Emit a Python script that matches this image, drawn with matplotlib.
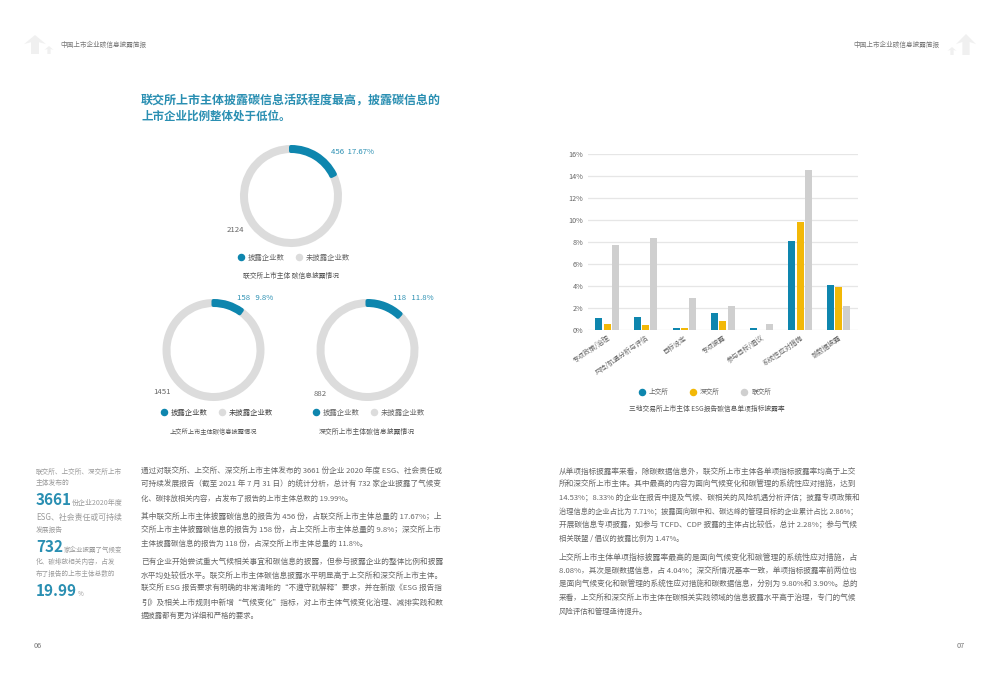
import matplotlib
matplotlib.use("Agg")
import matplotlib.pyplot as plt
import numpy as np
from matplotlib.lines import Line2D
from matplotlib.patches import Polygon

plt.rcParams['font.family'] = ['Noto Sans CJK SC', 'DejaVu Sans']
plt.rcParams['axes.unicode_minus'] = False

W, H = 1000, 679
BLUE = '#0E86AE'
TEAL = '#2A8FB2'
YELLOW = '#F2B807'
BAR_GREY = '#CFCFCF'
RING = '#DCDCDC'
TXT = '#666666'
SIDE = '#9A9A9A'

# ---- data
exchanges = ['上交所', '深交所', '联交所']
categories = ['专项政策/治理', '风险/机遇分析与评估', '目标设定', '专项披露',
              '参与目标/倡议', '系统性应对措施', '碳数据披露']
sse = [1.10, 1.20, 0.12, 1.55, 0.12, 8.08, 4.04]
szse = [0.50, 0.40, 0.12, 0.80, 0.00, 9.80, 3.90]
bse = [7.71, 8.33, 2.86, 2.20, 0.50, 14.53, 2.20]
y_ticks = [0, 2, 4, 6, 8, 10, 12, 14, 16]

donut_bse = [456, 2124]
donut_sse = [158, 1451]
donut_szse = [118, 882]
pct_labels = ['456  17.67%', '158   9.8%', '118   11.8%']
rest_labels = ['2124', '1451', '882']
legend_labels = ['披露企业数', '未披露企业数']
donut_captions = ['联交所上市主体 碳信息披露情况', '上交所上市主体碳信息披露情况', '深交所上市主体碳信息披露情况']
bar_caption = '三地交易所上市主体 ESG报告碳信息单项指标披露率'
header = '中国上市企业碳信息披露简报'
title_lines = ['联交所上市主体披露碳信息活跃程度最高，披露碳信息的', '上市企业比例整体处于低位。']

left_body = [
    ('通过对联交所、上交所、深交所上市主体发布的 3661 份企业 2020 年度 ESG、社会责任或', 471.5, 300),
    ('可持续发展报告（截至 2021 年 7 月 31 日）的统计分析，总计有 732 家企业披露了气候变', 485, 300),
    ('化、碳排放相关内容，占发布了报告的上市主体总数的 19.99%。', 498.5, 212),
    ('其中联交所上市主体披露碳信息的报告为 456 份，占联交所上市主体总量的 17.67%；上', 516.5, 300),
    ('交所上市主体披露碳信息的报告为 158 份，占上交所上市主体总量的 9.8%；深交所上市', 530, 300),
    ('主体披露碳信息的报告为 118 份，占深交所上市主体总量的 11.8%。', 543.5, 226),
    ('已有企业开始尝试重大气候相关事宜和碳信息的披露，但参与披露企业的整体比例和披露', 562, 300),
    ('水平均处较低水平。联交所上市主体碳信息披露水平明显高于上交所和深交所上市主体。', 575.5, 300),
    ('联交所 ESG 报告要求有明确的非常清晰的“不遵守就解释”要求，并在新版《ESG 报告指', 589, 300),
    ('引》及相关上市规则中新增“气候变化”指标，对上市主体气候变化治理、减排实践和数', 602.5, 300),
    ('据披露都有更为详细和严格的要求。', 616, 117),
]
right_body = [
    ('从单项指标披露率来看，除碳数据信息外，联交所上市主体各单项指标披露率均高于上交', 471.5, 299),
    ('所和深交所上市主体。其中最高的内容为面向气候变化和碳管理的系统性应对措施，达到', 485, 299),
    ('14.53%；8.33% 的企业在报告中提及气候、碳相关的风险机遇分析评估；披露专项政策和', 498.5, 299),
    ('治理信息的企业占比为 7.71%；披露面向碳中和、碳达峰的管理目标的企业累计占比 2.86%；', 512, 297),
    ('开展碳信息专项披露，如参与 TCFD、CDP 披露的主体占比较低，总计 2.28%；参与气候', 525.5, 299),
    ('相关联盟 / 倡议的披露比例为 1.47%。', 539, 124),
    ('上交所上市主体单项指标披露率最高的是面向气候变化和碳管理的系统性应对措施，占', 557.5, 299),
    ('8.08%，其次是碳数据信息，占 4.04%；深交所情况基本一致，单项指标披露率前两位也', 571, 299),
    ('是面向气候变化和碳管理的系统性应对措施和碳数据信息，分别为 9.80%和 3.90%。总的', 584.5, 299),
    ('来看，上交所和深交所上市主体在碳相关实践领域的信息披露水平高于治理，专门的气候', 598, 299),
    ('风险评估和管理亟待提升。', 611.5, 88),
]

fig = plt.figure(figsize=(W / 100, H / 100), dpi=100, facecolor='white')


def px_axes(x0, y0, x1, y1, **kw):
    return fig.add_axes([x0 / W, 1 - y1 / H, (x1 - x0) / W, (y1 - y0) / H], **kw)


# page overlay in pixel coordinates
pg = px_axes(0, 0, W, H)
pg.set_xlim(0, W)
pg.set_ylim(H, 0)
pg.axis('off')
renderer = fig.canvas.get_renderer()


def t(x, y, s, size=6, color=TXT, ha='left', weight='normal', fit=None):
    art = pg.text(x, y, s, fontsize=size, color=color, ha=ha, va='center', fontweight=weight)
    if fit:
        w = art.get_window_extent(renderer).width
        art.set_fontsize(size * fit / w)
    return art


def arrow(cx, top, half, height):
    pts = [(cx - half, top + height * .48), (cx, top), (cx + half, top + height * .48),
           (cx + half * .36, top + height * .38), (cx + half * .36, top + height),
           (cx - half * .36, top + height), (cx - half * .36, top + height * .38)]
    pg.add_patch(Polygon(pts, closed=True, fc='#F0F0F0', ec='none'))


arrow(35, 35, 11, 19)
arrow(49, 46, 4.5, 8)
arrow(966, 34, 10, 21)
arrow(952, 47, 4.5, 8)
t(60, 45, header, 5, '#777777', fit=87)
t(853, 45, header, 5, '#777777', fit=87)
t(34, 646.5, '06', 5.3, '#777777')
t(957, 646.5, '07', 5.3, '#777777')

t(141, 100.5, title_lines[0], 8.3, TEAL, weight='bold', fit=300)
t(141, 116, title_lines[1], 8.3, TEAL, weight='bold')

for s, y, w in left_body:
    t(141, y, s, 5.6, TXT, fit=w)
for s, y, w in right_body:
    t(559, y, s, 5.6, TXT, fit=w)

# sidebar
t(36, 471.5, '联交所、上交所、深交所上市', 5, SIDE, fit=87)
t(36, 483, '主体发布的', 4.9, SIDE)
t(36, 500, '3661', 11, TEAL, weight='bold')
t(72, 503, '份企业2020年度', 5, SIDE, fit=51)
t(36, 517, 'ESG、社会责任或可持续', 5, SIDE, fit=87)
t(36, 530, '发展报告', 4.9, SIDE)
t(36, 547, '732', 11, TEAL, weight='bold')
t(64, 550, '家企业披露了气候变', 5, SIDE, fit=59)
t(36, 562, '化、碳排放相关内容，占发', 5, SIDE, fit=80)
t(36, 574, '布了报告的上市主体总数的', 5, SIDE, fit=80)
t(36, 591, '19.99', 11, TEAL, weight='bold')
t(78, 594, '%', 4.5, SIDE)


# donuts
def donut(values, cx, cy, pct_xy, pct, rest_xy, rest, leg_xy, cap_xy, cap, cap_w, leg_col=TXT):
    R = 51
    lw_px = 4
    ax = px_axes(cx - 56, cy - 56, cx + 56, cy + 56)
    wedges, _ = ax.pie(values, colors=[BLUE, RING], startangle=90, counterclock=False,
                       radius=R - lw_px / 2,
                       wedgeprops=dict(width=8 - lw_px, linewidth=lw_px * .72, joinstyle='round'))
    wedges[0].set_edgecolor(BLUE)
    wedges[1].set_edgecolor(RING)
    wedges[0].set_zorder(3)
    wedges[1].set_zorder(2)
    ax.set_xlim(-56, 56)
    ax.set_ylim(-56, 56)
    ax.axis('off')
    t(*pct_xy, pct, 5.6, TEAL)
    t(*rest_xy, rest, 5.6, TXT)
    handles = [Line2D([], [], ls='none', marker='o', ms=4.4, color=BLUE),
               Line2D([], [], ls='none', marker='o', ms=4.4, color=RING)]
    fig.legend(handles, legend_labels, loc='center', ncol=2, frameon=False, fontsize=5.3,
               labelcolor=leg_col, handlelength=0.8, handletextpad=0.55, columnspacing=1.5, borderpad=0,
               bbox_to_anchor=(leg_xy[0] / W, 1 - leg_xy[1] / H))
    t(*cap_xy, cap, 4.8, '#555555', ha='center', fit=cap_w)


donut(donut_bse, 291, 196, (331, 152), pct_labels[0], (227, 230), rest_labels[0], (294, 258), (291, 276), donut_captions[0], 96)
donut(donut_sse, 213.5, 350, (237, 298), pct_labels[1], (153, 392), rest_labels[1], (217, 413), (213, 432), donut_captions[1], 87, '#444444')
donut(donut_szse, 367.5, 350, (393, 298), pct_labels[2], (314, 394), rest_labels[2], (369, 413), (367, 432), donut_captions[2], 95)

# grouped bars
ax = px_axes(587.7, 154.3, 858, 329.7)
x = np.arange(len(categories))
bw = 7 / 38.6
step = 8.2 / 38.6
for off, vals, col in zip([-step, 0, step], [sse, szse, bse], [BLUE, YELLOW, BAR_GREY]):
    ax.bar(x + off, vals, width=bw, color=col, zorder=3)
ax.set_xlim(-0.5, len(categories) - 0.5)
ax.set_ylim(0, 16)
ax.set_yticks(y_ticks)
ax.set_yticklabels([f'{v}%' for v in y_ticks], fontsize=5.2, color=TXT)
ax.set_xticks(x)
ax.set_xticklabels(categories, rotation=35, ha='right', rotation_mode='anchor', fontsize=4.9, color=TXT)
ax.tick_params(axis='both', length=0, pad=3)
ax.grid(axis='y', color='#E6E6E6', lw=0.9, zorder=0)
ax.set_axisbelow(True)
for sp in ax.spines.values():
    sp.set_visible(False)
ax.patch.set_alpha(0)

bar_handles = [Line2D([], [], ls='none', marker='o', ms=4.4, color=c) for c in [BLUE, YELLOW, BAR_GREY]]
fig.legend(bar_handles, exchanges, loc='center', ncol=3, frameon=False, fontsize=4.8, labelcolor=TXT,
           handlelength=0.8, handletextpad=0.7, columnspacing=3.2, borderpad=0,
           bbox_to_anchor=(705 / W, 1 - 392 / H))
t(706.5, 409, bar_caption, 4.8, '#555555', ha='center', fit=155)

fig.savefig('out.png', dpi=100, facecolor='white')
